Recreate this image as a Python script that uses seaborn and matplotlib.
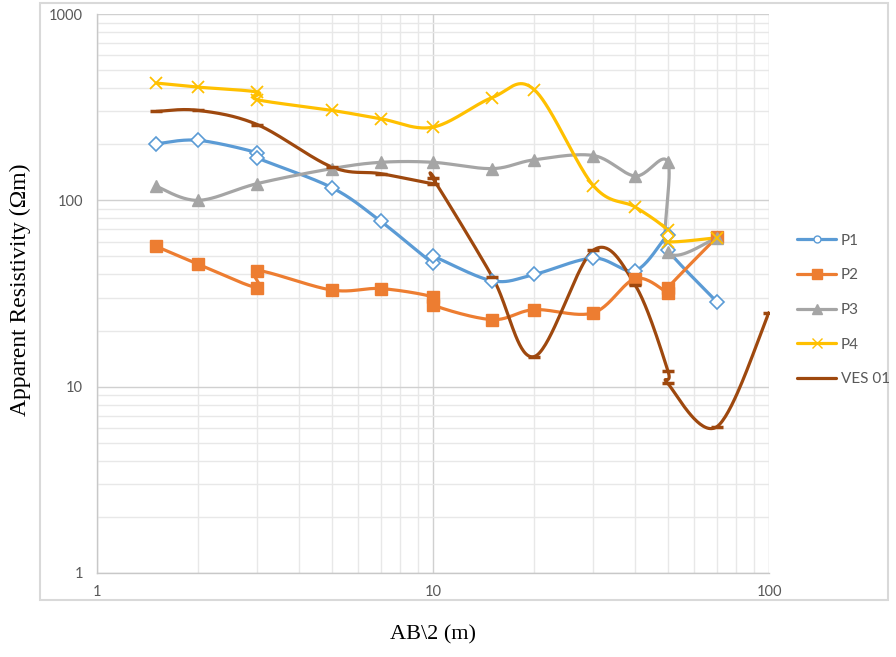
import numpy as np
import pandas as pd
import matplotlib.pyplot as plt
import seaborn as sns
from matplotlib.lines import Line2D
from matplotlib.patches import Rectangle
from matplotlib.ticker import LogLocator, NullFormatter, FixedLocator, FixedFormatter

sns.set_style("white")

# --- Data (AB/2 in m, apparent resistivity in Ohm.m) ---
p1_x = [1.5, 2, 3, 3, 5, 7, 10, 10, 15, 20, 30, 40, 50, 50, 70]
p1_y = [201, 210, 180, 169, 117, 77, 46, 50, 37, 40, 49, 42, 65, 54, 28.5]

p2_x = [1.5, 2, 3, 3, 5, 7, 10, 10, 15, 20, 30, 40, 50, 50, 70]
p2_y = [56.6, 45.4, 34, 42, 33, 33.6, 30.3, 27.4, 22.9, 25.9, 24.9, 38, 32, 34, 63.5]

p3_x = [1.5, 2, 3, 5, 7, 10, 15, 20, 30, 40, 50, 50, 70]
p3_y = [119, 100, 123, 148, 160, 160, 148, 165, 174, 135, 160, 53, 63]

p4_x = [1.5, 2, 3, 3, 5, 7, 10, 15, 20, 30, 40, 50, 50, 70]
p4_y = [426, 405, 381, 347, 304, 274, 247, 356, 393, 120, 92, 69, 60, 63]

ves_x = [1.5, 2, 3, 5, 7, 10, 10, 15, 20, 30, 40, 50, 50, 70, 100]
ves_y = [300, 304, 255, 151, 139, 123, 131, 39, 14.5, 54, 35, 12.2, 10.4, 6.1, 25]

series_names = ["P1", "P2", "P3", "P4", "VES 01"]
series_x = [p1_x, p2_x, p3_x, p4_x, ves_x]
series_y = [p1_y, p2_y, p3_y, p4_y, ves_y]

colors = {"P1": "#5B9BD5", "P2": "#ED7D31", "P3": "#A5A5A5", "P4": "#FFC000", "VES 01": "#9E480E"}
markers = {"P1": "D", "P2": "s", "P3": "^", "P4": "x", "VES 01": "_"}
msizes = {"P1": 7, "P2": 9, "P3": 9, "P4": 9, "VES 01": 8}


def smooth(xs, ys, n=40):
    # Excel-style smoothed line: cubic Bezier through the points, done in log-log space
    P = np.column_stack([np.log10(xs), np.log10(ys)])
    ext = np.vstack([P[0], P, P[-1]])
    t = np.linspace(0, 1, n)[:, None]
    segs = []
    for i in range(len(P) - 1):
        p0, p1, p2, p3 = ext[i], ext[i + 1], ext[i + 2], ext[i + 3]
        c1 = p1 + (p2 - p0) / 6
        c2 = p2 - (p3 - p1) / 6
        segs.append((1 - t) ** 3 * p1 + 3 * (1 - t) ** 2 * t * c1 + 3 * (1 - t) * t ** 2 * c2 + t ** 3 * p2)
    pts = np.vstack(segs)
    return pd.DataFrame({"x": 10 ** pts[:, 0], "y": 10 ** pts[:, 1]})


fig = plt.figure(figsize=(8.96, 6.57), dpi=100)
ax = fig.add_axes([97 / 896, 1 - 573 / 657, 672 / 896, 559 / 657])

# outer chart frame
fig.patches.append(Rectangle((40 / 896, 1 - 600 / 657), 848 / 896, 597 / 657,
                             transform=fig.transFigure, fill=False, edgecolor="#D9D9D9", lw=1.5))

for name, xs, ys in zip(series_names, series_x, series_y):
    curve = smooth(xs, ys)
    sns.lineplot(data=curve, x="x", y="y", sort=False, estimator=None, ax=ax,
                 color=colors[name], lw=2.3, zorder=3)
    pts = pd.DataFrame({"x": xs, "y": ys})
    if name == "P1":
        ax.plot(pts["x"], pts["y"], ls="none", marker="D", ms=msizes[name], mfc="white",
                mec=colors[name], mew=1.2, zorder=4)
    elif name == "P4":
        ax.plot(pts["x"], pts["y"], ls="none", marker="x", ms=msizes[name],
                mec=colors[name], mew=1.3, zorder=4)
    elif name == "VES 01":
        ax.plot(pts["x"], pts["y"], ls="none", marker="_", ms=msizes[name],
                mec=colors[name], mew=2.5, zorder=4)
    else:
        ax.plot(pts["x"], pts["y"], ls="none", marker=markers[name], ms=msizes[name],
                mfc=colors[name], mec=colors[name], zorder=4)

ax.set_xscale("log")
ax.set_yscale("log")
ax.set_xlim(1, 100)
ax.set_ylim(1, 1000)

ax.xaxis.set_major_locator(FixedLocator([1, 10, 100]))
ax.xaxis.set_major_formatter(FixedFormatter(["1", "10", "100"]))
ax.yaxis.set_major_locator(FixedLocator([1, 10, 100, 1000]))
ax.yaxis.set_major_formatter(FixedFormatter(["1", "10", "100", "1000"]))
ax.xaxis.set_minor_locator(LogLocator(base=10, subs=np.arange(2, 10)))
ax.yaxis.set_minor_locator(LogLocator(base=10, subs=np.arange(2, 10)))
ax.xaxis.set_minor_formatter(NullFormatter())
ax.yaxis.set_minor_formatter(NullFormatter())

ax.grid(True, which="major", color="#D0D0D0", lw=1.0, zorder=0)
ax.grid(True, which="minor", color="#E8E8E8", lw=1.0, zorder=0)
ax.set_axisbelow(True)

for side in ["top", "right"]:
    ax.spines[side].set_visible(False)
for side in ["left", "bottom"]:
    ax.spines[side].set_color("#C8C8C8")
    ax.spines[side].set_linewidth(1.0)

ax.tick_params(axis="x", which="both", direction="out", length=5, color="#C8C8C8",
               labelsize=10.5, labelcolor="#595959", pad=4)
ax.tick_params(axis="y", which="major", direction="out", length=4, color="#C8C8C8",
               labelsize=10.5, labelcolor="#595959", pad=6)
ax.tick_params(axis="y", which="minor", length=0)
for lab in ax.get_xticklabels() + ax.get_yticklabels():
    lab.set_family("Lato")

ax.set_xlabel("")
ax.set_ylabel("")
fig.text(433 / 896, 1 - 635 / 657, "AB\\2 (m)", ha="center", va="center",
         family="Liberation Serif", fontsize=16, color="black")
fig.text(20 / 896, 1 - 290 / 657, "Apparent Resistivity (\u03a9m)", ha="center", va="center",
         rotation=90, family="Liberation Serif", fontsize=17, color="black")

handles = []
for name in series_names:
    if name == "P1":
        h = Line2D([], [], color=colors[name], lw=2.3, marker="o", ms=5, mfc="white", mec=colors[name])
    elif name == "P4":
        h = Line2D([], [], color=colors[name], lw=2.3, marker="x", ms=7, mec=colors[name])
    elif name == "VES 01":
        h = Line2D([], [], color=colors[name], lw=2.3)
    else:
        h = Line2D([], [], color=colors[name], lw=2.3, marker=markers[name], ms=7)
    handles.append(h)

leg = fig.legend(handles, series_names, loc="upper left", bbox_to_anchor=(783 / 896, 1 - 220 / 657),
                 frameon=False, handlelength=2.6, labelspacing=1.35, handletextpad=0.3,
                 prop={"family": "Lato", "size": 11})
for txt in leg.get_texts():
    txt.set_color("#595959")

fig.savefig("out.png", dpi=100)
